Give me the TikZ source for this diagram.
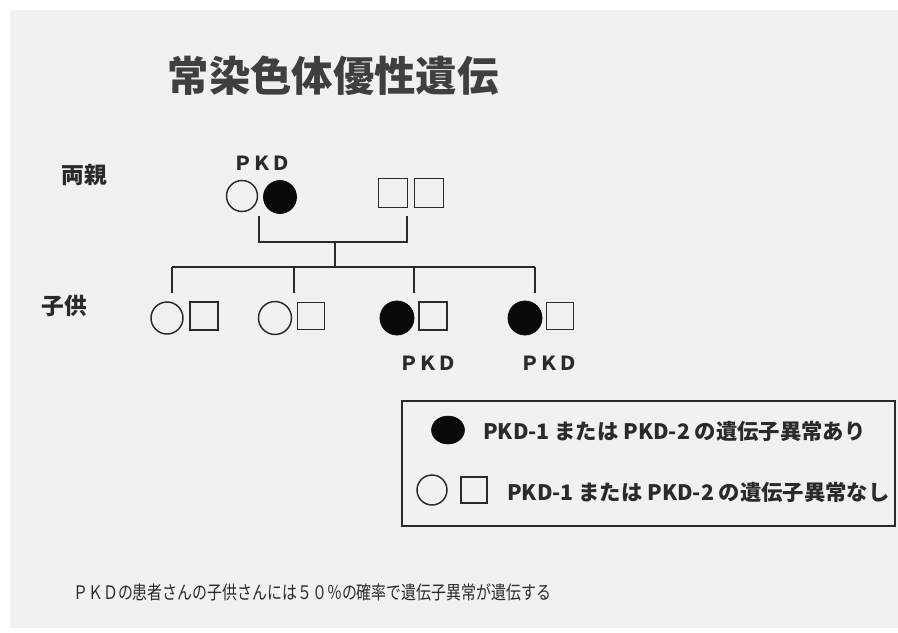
\documentclass[tikz,border=0pt]{standalone}
\usepackage{fontspec}
\newfontfamily\jp{Noto Sans CJK JP}
\usetikzlibrary{shapes.geometric}
\definecolor{page}{HTML}{F1F1F1}
\definecolor{ink}{HTML}{2A2A2A}
\definecolor{fillk}{HTML}{0A0A0A}
\tikzset{
  lbl/.style={inner sep=0pt, text=ink, font=\jp},
  openc/.style={circle, draw=ink, line width=1.1pt, minimum size=#1*0.75pt, inner sep=0pt},
  fullc/.style={circle, draw=fillk, fill=fillk, line width=0.6pt, minimum size=#1*0.75pt, inner sep=0pt},
  sq/.style={rectangle, draw=ink, line width=1.1pt, minimum size=#1*0.75pt, inner sep=0pt},
  link/.style={draw=ink, line width=1.3pt},
  pkdlbl/.style={lbl, font=\jp\bfseries\fontsize{14.5}{18}\selectfont},
  legtext/.style={lbl, anchor=west, font=\jp\bfseries\fontsize{16}{19}\selectfont},
}
\begin{document}
\begin{tikzpicture}[x=0.75pt,y=-0.75pt]
\useasboundingbox (0,0) rectangle (898,632);
\fill[white] (0,0) rectangle (898,632);
\fill[page] (10,10) rectangle (898,628);

% title
\node[lbl, text=ink!90, font=\jp\bfseries\fontsize{31}{36}\selectfont] (title) at (333,76) {常染色体優性遺伝};

% generation labels
\node[lbl, font=\jp\bfseries\fontsize{17}{20}\selectfont] (gen1) at (84,175) {両親};
\node[lbl, font=\jp\bfseries\fontsize{17}{20}\selectfont] (gen2) at (64,306) {子供};

% parents
\node[pkdlbl] (ppkd) at (262,163) {ＰＫＤ};
\node[openc=31] (m1) at (242,196) {};
\node[fullc=33] (m2) at (280,197) {};
\node[sq=29] (f1) at (393,193) {};
\node[sq=29] (f2) at (429,193) {};

\coordinate (mdrop) at (259,216);
\coordinate (fdrop) at (407,216);
\coordinate (mbot) at (259,242);
\coordinate (fbot) at (407,242);
\coordinate (mid) at (335,242);
\coordinate (sib) at (335,267);
\draw[link] (mdrop) -- (mbot) -- (fbot) -- (fdrop);
\draw[link] (mid) -- (sib);

% sibship line
\coordinate (s1) at (172,267);
\coordinate (s2) at (294,267);
\coordinate (s3) at (414,267);
\coordinate (s4) at (535,267);
\coordinate (d1) at (172,293);
\coordinate (d2) at (294,293);
\coordinate (d3) at (414,293);
\coordinate (d4) at (535,293);
\draw[link] (s1) -- (s4);
\draw[link] (s1) -- (d1);
\draw[link] (s2) -- (d2);
\draw[link] (s3) -- (d3);
\draw[link] (s4) -- (d4);

% children
\node[openc=32] (c1a) at (167,318) {};
\node[sq=28] (c1b) at (204,316) {};
\node[openc=33] (c2a) at (275,318) {};
\node[sq=27] (c2b) at (311,316) {};
\node[fullc=34] (c3a) at (397,318) {};
\node[sq=28] (c3b) at (433,316) {};
\node[fullc=34] (c4a) at (525,318) {};
\node[sq=27] (c4b) at (560,316) {};

\node[pkdlbl] (pkd3) at (428,363) {ＰＫＤ};
\node[pkdlbl] (pkd4) at (549,363) {ＰＫＤ};

% legend
\node[draw=ink, line width=1.3pt, rectangle, minimum width=493*0.75pt, minimum height=125*0.75pt, inner sep=0pt] (legend) at (648.5,463.5) {};
\node[ellipse, draw=fillk, fill=fillk, minimum width=33*0.75pt, minimum height=28*0.75pt, inner sep=0pt] (lg1) at (448,430) {};
\node[legtext] (lt1) at (483,431) {PKD-1 または PKD-2 の遺伝子異常あり};
\node[openc=30] (lg2) at (432,490) {};
\node[sq=26] (lg3) at (474,490) {};
\node[legtext] (lt2) at (507,492) {PKD-1 または PKD-2 の遺伝子異常なし};

% footnote
\node[lbl, anchor=west, font=\jp\fontsize{14}{17}\selectfont, xscale=0.8] (foot) at (73,592) {ＰＫＤの患者さんの子供さんには５０％の確率で遺伝子異常が遺伝する};
\end{tikzpicture}
\end{document}
